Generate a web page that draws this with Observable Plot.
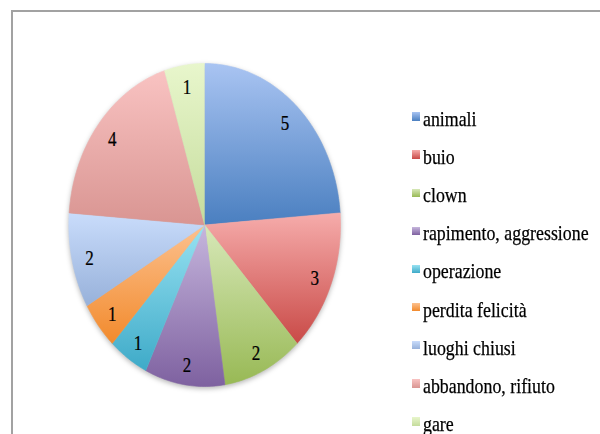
<!DOCTYPE html>
<html>
<head>
<meta charset="utf-8">
<script src="https://cdn.jsdelivr.net/npm/d3@7"></script>
<script src="https://cdn.jsdelivr.net/npm/@observablehq/plot@0.6"></script>
<style>
  html, body { margin: 0; padding: 0; background: #fff; }
  #wrap { position: relative; width: 600px; height: 434px; overflow: hidden; background: #fff; }
  #chart { position: absolute; left: 0; top: 0; }
  #frame { position: absolute; left: 11px; top: 10px; width: 640px; height: 480px;
           border-top: 2px solid #a2a2a2; border-left: 2px solid #a2a2a2; pointer-events: none; }
  .row { position: absolute; left: 0; height: 38px; line-height: 38px; white-space: nowrap;
         font-family: "Liberation Serif", serif; font-size: 21px; color: #000; }
  .sw { position: absolute; left: 411.5px; top: 12.4px; width: 8.5px; height: 8.5px; }
  .lab { position: absolute; left: 422.7px; top: 0; transform: scaleX(0.85); transform-origin: left center;
         -webkit-text-stroke: 0.25px #000; }
</style>
</head>
<body>
<div id="wrap">
  <div id="chart"></div>
  <div id="frame"></div>
  <div id="legend"></div>
</div>
<script>
// ---- data ----
const categories = ["animali", "buio", "clown", "rapimento, aggressione", "operazione",
                    "perdita felicità", "luoghi chiusi", "abbandono, rifiuto", "gare"];
const values = [5, 3, 2, 2, 1, 1, 2, 4, 1];

// ---- palette (gradient top / bottom per slice) ----
const topColors    = ["#a9c4f2", "#f6acab", "#d7e8b8", "#c6b6dd", "#98e2f2", "#fcc18f", "#c9dcfb", "#f9c3c2", "#e8f6cc"];
const bottomColors = ["#4a7fc0", "#c94a47", "#98b955", "#7e61a0", "#3eaac8", "#f28a2c", "#97b1da", "#d99592", "#c5dc9c"];

// ---- geometry derived from the data ----
const arcs = d3.pie().sort(null).value(d => d)(values);
const slicePts = arcs.flatMap((a, i) => {
  const span = a.endAngle - a.startAngle;
  const n = Math.max(2, Math.ceil(span / (Math.PI / 180)));
  const pts = [{key: i, x: 0, y: 0, fill: `url(#g${i})`}];
  for (let k = 0; k <= n; k++) {
    const t = a.startAngle + span * k / n;
    pts.push({key: i, x: Math.sin(t), y: Math.cos(t), fill: `url(#g${i})`});
  }
  return pts;
});
const labels = arcs.map((a, i) => {
  const m = (a.startAngle + a.endAngle) / 2;
  return {x: 0.87 * Math.sin(m), y: 0.87 * Math.cos(m), text: String(values[i])};
});

const chart = Plot.plot({
  width: 600, height: 434, margin: 0,
  x: {domain: [-1, 1], range: [68.3, 340], axis: null},
  y: {domain: [-1, 1], range: [386, 63], axis: null},
  color: {type: "identity"},
  style: {background: "transparent", fontFamily: "Liberation Serif, serif"},
  marks: [
    Plot.line(slicePts, {x: "x", y: "y", z: "key", fill: "fill", stroke: "fill", strokeWidth: 0.6, curve: "linear"}),
    Plot.text(labels, {x: "x", y: "y", text: "text", fontSize: 20, dy: 2, fill: "#000", stroke: "#000", strokeWidth: 0.25})
  ]
});

const defs = d3.select(chart).insert("defs", ":first-child");
categories.forEach((c, i) => {
  const g = defs.append("linearGradient").attr("id", "g" + i)
    .attr("x1", 0).attr("y1", 0).attr("x2", 0).attr("y2", 1);
  g.append("stop").attr("offset", "0%").attr("stop-color", topColors[i]);
  g.append("stop").attr("offset", "100%").attr("stop-color", bottomColors[i]);
});
d3.select(chart).select('g[aria-label="line"]')
  .style("filter", "drop-shadow(0px 2px 2.5px rgba(0,0,0,0.28))");
// narrow the digits around their own anchor
d3.select(chart).selectAll('g[aria-label="text"] text').each(function() {
  const t = this.getAttribute("transform") || "";
  this.setAttribute("transform", t + " scale(0.85,1)");
});

document.getElementById("chart").appendChild(chart);

// ---- legend ----
const legend = d3.select("#legend");
const rows = legend.selectAll("div.row").data(categories).join("div")
  .attr("class", "row")
  .style("top", (d, i) => (119 + 38.1 * i - 19) + "px")
  .style("width", "600px");
rows.append("span").attr("class", "sw")
  .style("background", (d, i) => `linear-gradient(to bottom, ${topColors[i]}, ${bottomColors[i]})`);
rows.append("span").attr("class", "lab").text(d => d);
</script>
</body>
</html>
